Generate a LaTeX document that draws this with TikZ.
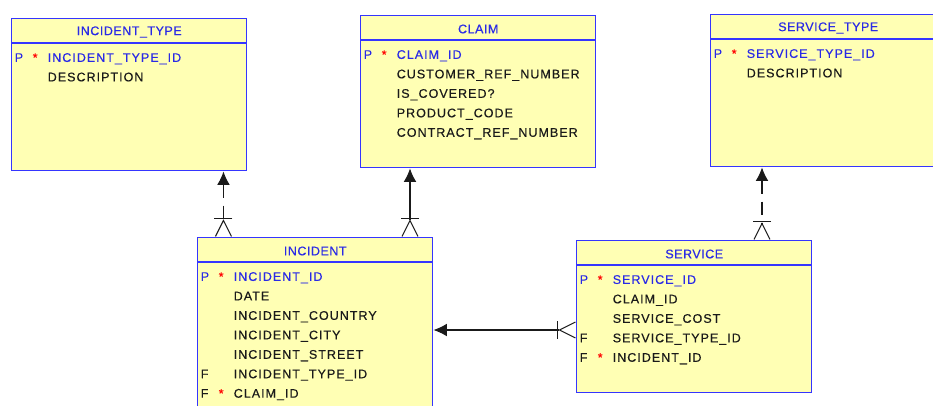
\documentclass[tikz,border=0pt]{standalone}
\usepackage{fontspec}
\newfontfamily\erfont{Liberation Sans}[LetterSpace=8,FakeBold=0.4]
\newfontfamily\erhead{Liberation Sans}[LetterSpace=4,FakeBold=0.4]
\usepackage{xcolor}
\definecolor{EntBlue}{HTML}{3535FF}
\definecolor{EntText}{HTML}{2A2AE6}
\definecolor{EntDark}{HTML}{1A1A1A}
\definecolor{EntFill}{HTML}{FFFFB4}
\usepackage{tikz}
\usetikzlibrary{arrows.meta,calc}
\newcommand{\pkrow}[1]{\textcolor{EntText}{P}&\textcolor{red}{*}&\textcolor{EntText}{#1}}
\newcommand{\fkrow}[2]{F&#1&#2}

\begin{document}
\begin{tikzpicture}[x=0.75pt,y=-0.75pt,>=Latex,
entity/.style={draw=EntBlue,fill=EntFill,line width=1.1pt,minimum width=176.25pt,minimum height=114pt,inner sep=0pt,anchor=north west},
head/.style={font=\erhead\fontsize{9.4}{11}\selectfont,text=EntText,inner sep=0pt},
attrs/.style={anchor=north west,inner sep=0pt,font=\erfont\fontsize{9.4}{14.6}\selectfont,text=EntDark},
link/.style={draw=EntDark,line width=0.8pt,{Latex[length=10pt,width=9.5pt]}-{Bar[width=13.5pt]Straight Barb[reversed,length=12pt,width=12pt]}}]
\useasboundingbox (0,0) rectangle (933,405);
\clip (0,0) rectangle (933,405);
\node[entity] (itype) at (11,18) {};
\node[entity] (claim) at (360,15) {};
\node[entity] (stype) at (710,14) {};
\node[entity,minimum height=139pt] (inc) at (197,237) {};
\node[entity] (svc) at (576,240) {};
\foreach \e/\t in {itype/INCIDENT\_TYPE,claim/CLAIM,stype/SERVICE\_TYPE,inc/INCIDENT,svc/SERVICE}{
  \node[head] (\e-t) at ($(\e.north)+(0,14)$) {\t};
  \draw[EntBlue,line width=1.1pt] ($(\e.north west)+(0,25)$) -- ($(\e.north east)+(0,25)$);
}
\node[attrs] (itype-a) at ($(itype.north west)+(3.5,30)$) {\begin{tabular}{@{}p{13.5pt}@{}p{11.25pt}@{}l@{}}
\pkrow{INCIDENT\_TYPE\_ID}\\
&&DESCRIPTION
\end{tabular}};
\node[attrs] (claim-a) at ($(claim.north west)+(3.5,30)$) {\begin{tabular}{@{}p{13.5pt}@{}p{11.25pt}@{}l@{}}
\pkrow{CLAIM\_ID}\\
&&CUSTOMER\_REF\_NUMBER\\
&&IS\_COVERED?\\
&&PRODUCT\_CODE\\
&&CONTRACT\_REF\_NUMBER
\end{tabular}};
\node[attrs] (stype-a) at ($(stype.north west)+(3.5,30)$) {\begin{tabular}{@{}p{13.5pt}@{}p{11.25pt}@{}l@{}}
\pkrow{SERVICE\_TYPE\_ID}\\
&&DESCRIPTION
\end{tabular}};
\node[attrs] (inc-a) at ($(inc.north west)+(3.5,30)$) {\begin{tabular}{@{}p{13.5pt}@{}p{11.25pt}@{}l@{}}
\pkrow{INCIDENT\_ID}\\
&&DATE\\
&&INCIDENT\_COUNTRY\\
&&INCIDENT\_CITY\\
&&INCIDENT\_STREET\\
\fkrow{}{INCIDENT\_TYPE\_ID}\\
\fkrow{\textcolor{red}{*}}{CLAIM\_ID}
\end{tabular}};
\node[attrs] (svc-a) at ($(svc.north west)+(3.5,30)$) {\begin{tabular}{@{}p{13.5pt}@{}p{11.25pt}@{}l@{}}
\pkrow{SERVICE\_ID}\\
&&CLAIM\_ID\\
&&SERVICE\_COST\\
\fkrow{}{SERVICE\_TYPE\_ID}\\
\fkrow{\textcolor{red}{*}}{INCIDENT\_ID}
\end{tabular}};
\coordinate (itype-in) at ($(itype.south east)+(-24,0)$);
\coordinate (claim-in) at ($(claim.south west)+(50,0)$);
\coordinate (stype-in) at ($(stype.south west)+(52,0)$);
\coordinate (svc-in) at ($(svc.north west)+(0,90)$);
\draw[link,dash pattern=on 10pt off 6pt] (itype-in) -- (itype-in |- inc.north);
\draw[link] (claim-in) -- (claim-in |- inc.north);
\draw[link,dash pattern=on 10pt off 6pt] (stype-in) -- (stype-in |- svc.north);
\draw[link] (inc.east |- svc-in) -- (svc-in);
\end{tikzpicture}
\end{document}
